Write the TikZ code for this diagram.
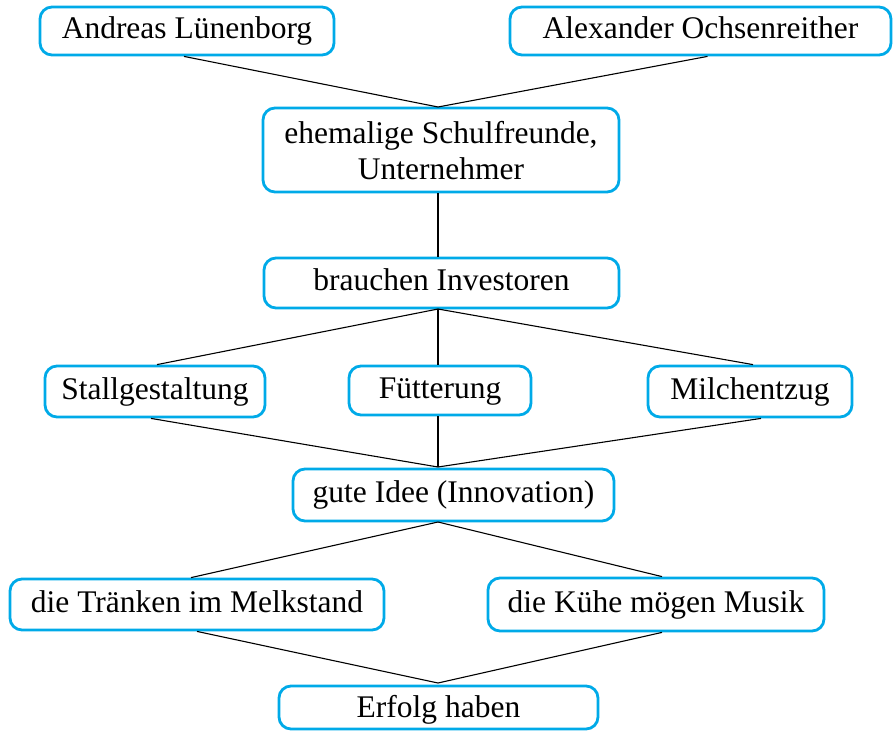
\documentclass[tikz,border=0pt]{standalone}
\usepackage{fontspec}
\setmainfont{Liberation Serif}
\definecolor{boxblue}{RGB}{0,170,232}
\begin{document}
\begin{tikzpicture}[x=1pt,y=-1pt,
  box/.style={draw=boxblue, line width=2.8pt, rounded corners=12pt, inner sep=0pt,
    font=\fontsize{31.5}{29}\selectfont, align=center},
  one/.style={box, text height=22pt, text depth=7pt},
  conn/.style={line width=1.1pt, draw=black}]
\useasboundingbox (0,0) rectangle (894,731);
% boxes
\node[one, minimum width=294pt, minimum height=48pt] (andreas) at (187,31) {Andreas Lünenborg};
\node[one, minimum width=381pt, minimum height=48pt] (alex) at (700.5,31) {Alexander Ochsenreither};
\node[box, font=\fontsize{31.5}{36}\selectfont, minimum width=356pt, minimum height=84pt] (ehem) at (441,150) {\rule{0pt}{24pt}ehemalige Schulfreunde,\\Unternehmer};
\node[one, minimum width=355pt, minimum height=50pt] (brauchen) at (441.5,283) {brauchen Investoren};
\node[one, minimum width=220pt, minimum height=51pt] (stall) at (155,391.5) {Stallgestaltung};
\node[one, minimum width=182pt, minimum height=49pt] (fuett) at (440,390.5) {Fütterung};
\node[one, minimum width=204pt, minimum height=51pt] (milch) at (750,391.5) {Milchentzug};
\node[one, minimum width=321pt, minimum height=52pt] (idee) at (453.5,495) {gute Idee (Innovation)};
\node[one, minimum width=374pt, minimum height=51pt] (traenken) at (197,604.5) {die Tränken im Melkstand};
\node[one, minimum width=336pt, minimum height=53pt] (kuehe) at (656,604.5) {die Kühe mögen Musik};
\node[box, text height=22pt, text depth=2pt, minimum width=319pt, minimum height=43pt] (erfolg) at (438.5,707.5) {Erfolg haben};
% junction points
\coordinate (m1) at (438,107);
\coordinate (m2) at (438,309);
\coordinate (m3) at (438,467);
\coordinate (m4) at (438,522);
\coordinate (m5) at (438,683);
% connectors
\draw[conn] ([xshift=-3pt]andreas.south) -- (m1);
\draw[conn] ([xshift=7pt]alex.south) -- (m1);
\draw[conn] (ehem.south -| m1) -- (brauchen.north -| m1);
\draw[conn] (m2) -- ([xshift=2pt]stall.north);
\draw[conn] (m2) -- (fuett.north -| m2);
\draw[conn] (m2) -- ([xshift=3pt]milch.north);
\draw[conn] ([xshift=-4pt]stall.south) -- (m3);
\draw[conn] (fuett.south -| m3) -- (m3);
\draw[conn] ([xshift=11pt]milch.south) -- (m3);
\draw[conn] (m4) -- ([xshift=-6pt]traenken.north);
\draw[conn] (m4) -- ([xshift=6pt]kuehe.north);
\draw[conn] (traenken.south) -- (m5);
\draw[conn] ([xshift=6pt]kuehe.south) -- (m5);
\end{tikzpicture}
\end{document}
